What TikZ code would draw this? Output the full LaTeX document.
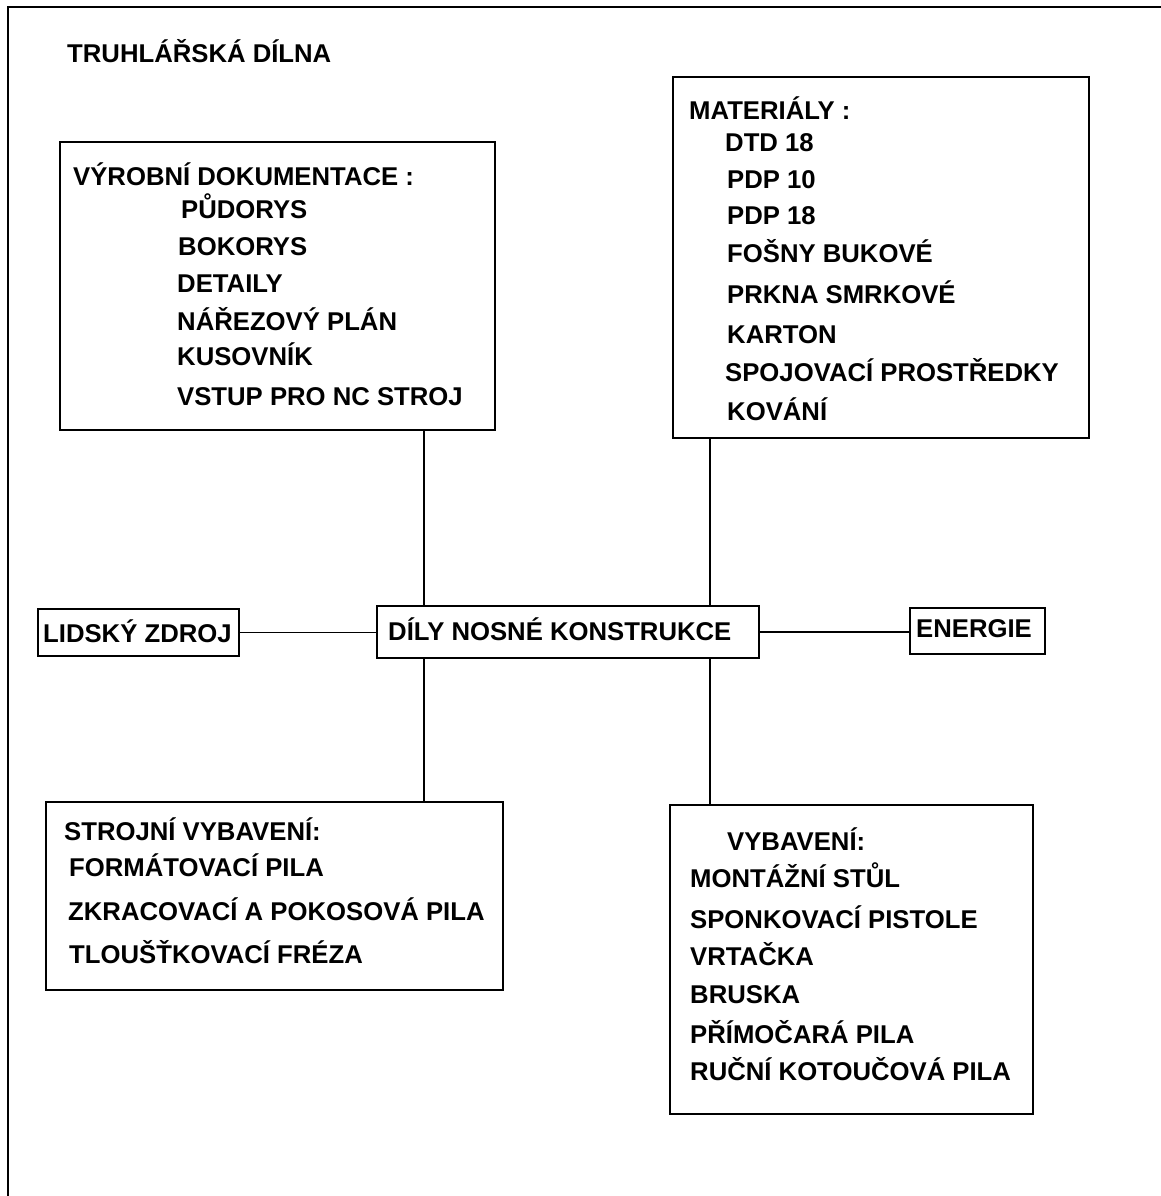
\documentclass[tikz,border=0pt]{standalone}
\usepackage{fontspec}
\setmainfont{Liberation Sans}
\usepackage{tikz}

\newcommand{\lblfont}{\bfseries\fontsize{25.7}{30}\selectfont}

\tikzset{
    box/.style={draw, line width=2pt, inner sep=0pt, anchor=north west},
    txt/.style={anchor=base west, inner sep=0pt, font=\lblfont},
    link/.style={line width=1.8pt}
}

\begin{document}
\begin{tikzpicture}[x=1pt, y=-1pt]
    \useasboundingbox (0,0) rectangle (1161,1196);

    % frame, cut off on the right and at the bottom
    \draw[line width=2.6pt] (1161,7) -- (8,7) -- (8,1196);

    \node[txt] (title) at (67,63) {TRUHLÁŘSKÁ DÍLNA};

    \node[box, minimum width=435pt, minimum height=288pt] (doc) at (59,141) {};
    \node[box, minimum width=416pt, minimum height=361pt] (mat) at (672,76) {};
    \node[box, minimum width=201pt, minimum height=47pt] (lidsky) at (37,608) {};
    \node[box, minimum width=382pt, minimum height=52pt] (dily) at (376,605) {};
    \node[box, minimum width=135pt, minimum height=46pt] (energie) at (909,607) {};
    \node[box, minimum width=457pt, minimum height=188pt] (stroj) at (45,801) {};
    \node[box, minimum width=363pt, minimum height=309pt] (vybav) at (669,804) {};

    % texts of the documentation box
    \node[txt] (d0) at (73,185) {VÝROBNÍ DOKUMENTACE :};
    \node[txt] (d1) at (181,218) {PŮDORYS};
    \node[txt] (d2) at (178,255) {BOKORYS};
    \node[txt] (d3) at (177,292) {DETAILY};
    \node[txt] (d4) at (177,330) {NÁŘEZOVÝ PLÁN};
    \node[txt] (d5) at (177,365) {KUSOVNÍK};
    \node[txt] (d6) at (177,405) {VSTUP PRO NC STROJ};

    % materials
    \node[txt] (m0) at (689,120) {MATERIÁLY :};
    \node[txt] (m1) at (725,151) {DTD 18};
    \node[txt] (m2) at (727,188) {PDP 10};
    \node[txt] (m3) at (727,224) {PDP 18};
    \node[txt] (m4) at (727,262) {FOŠNY BUKOVÉ};
    \node[txt] (m5) at (727,303) {PRKNA SMRKOVÉ};
    \node[txt] (m6) at (727,343) {KARTON};
    \node[txt] (m7) at (725,381) {SPOJOVACÍ PROSTŘEDKY};
    \node[txt] (m8) at (727,420) {KOVÁNÍ};

    \node[txt] (l0) at (43,642) {LIDSKÝ ZDROJ};
    \node[txt] (c0) at (388,640) {DÍLY NOSNÉ KONSTRUKCE};
    \node[txt] (e0) at (916,637) {ENERGIE};

    % machines
    \node[txt] (s0) at (64,840) {STROJNÍ VYBAVENÍ:};
    \node[txt] (s1) at (69,876) {FORMÁTOVACÍ PILA};
    \node[txt] (s2) at (68,920) {ZKRACOVACÍ A POKOSOVÁ PILA};
    \node[txt] (s3) at (69,963) {TLOUŠŤKOVACÍ FRÉZA};

    % equipment
    \node[txt] (v0) at (727,850) {VYBAVENÍ:};
    \node[txt] (v1) at (690,887) {MONTÁŽNÍ STŮL};
    \node[txt] (v2) at (690,928) {SPONKOVACÍ PISTOLE};
    \node[txt] (v3) at (690,965) {VRTAČKA};
    \node[txt] (v4) at (690,1003) {BRUSKA};
    \node[txt] (v5) at (690,1043) {PŘÍMOČARÁ PILA};
    \node[txt] (v6) at (690,1080) {RUČNÍ KOTOUČOVÁ PILA};

    % connectors
    \coordinate (xl) at (424,0);
    \coordinate (xr) at (710,0);

    \draw[link] (xl |- doc.south) -- (xl |- dily.north);
    \draw[link] (xr |- mat.south) -- (xr |- dily.north);
    \draw[link] (xl |- dily.south) -- (xl |- stroj.north);
    \draw[link] (xr |- dily.south) -- (xr |- vybav.north);

    \draw[link] (lidsky.east) -- (lidsky.east -| dily.west);
    \draw[link] (dily.east) -- (dily.east -| energie.west);

\end{tikzpicture}
\end{document}
